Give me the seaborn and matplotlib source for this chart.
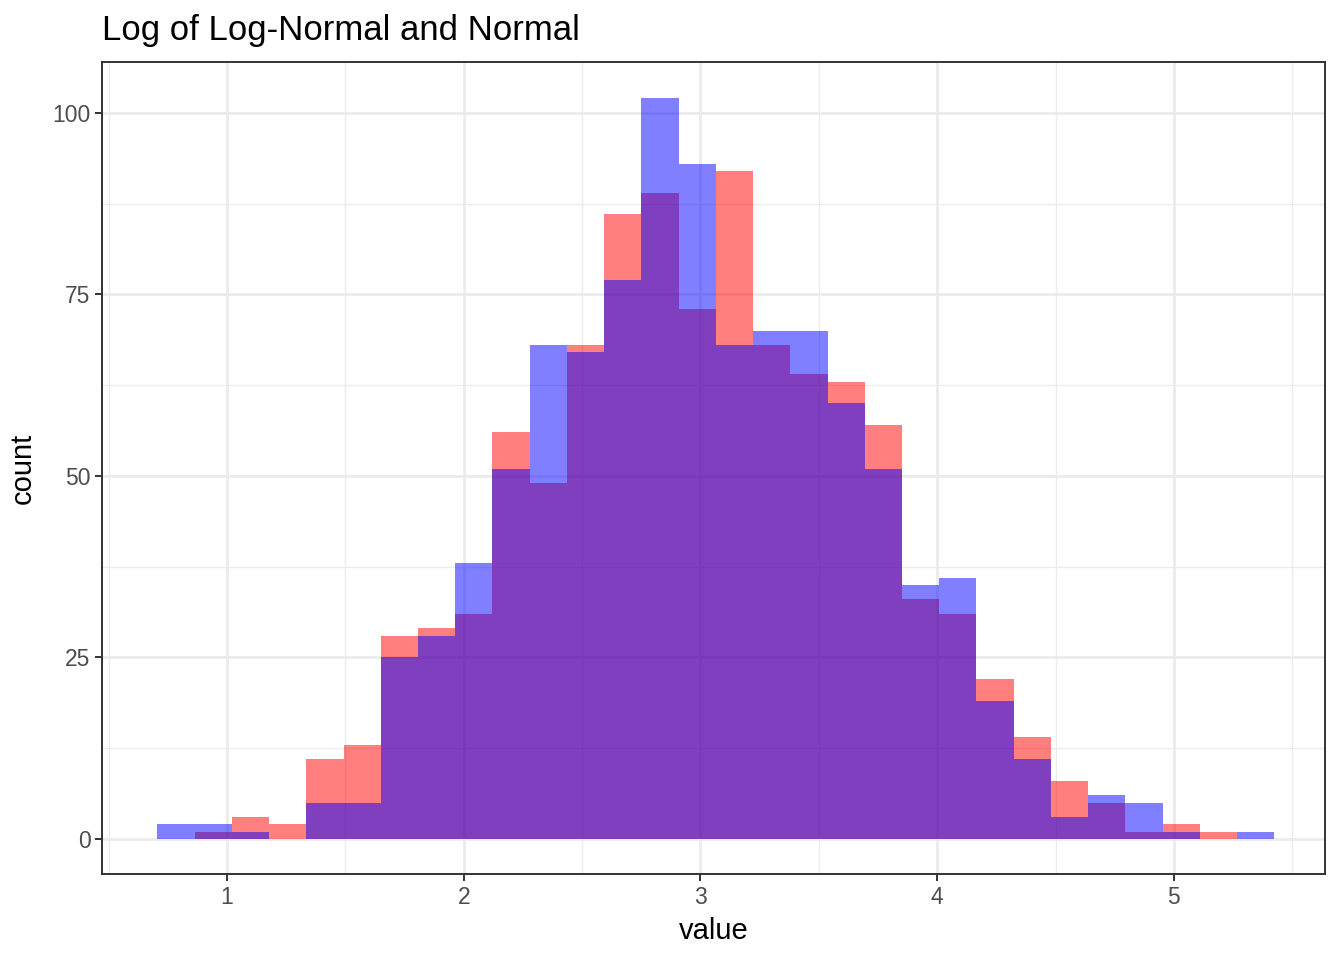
import numpy as np
import pandas as pd
import matplotlib
matplotlib.use("Agg")
import matplotlib.pyplot as plt
from matplotlib.ticker import MultipleLocator
import seaborn as sns

# shared bin range (30 bins)
bin_lo, bin_hi, n_bins = 0.706, 5.424, 30

# counts per bin, left to right
red_counts = [0, 1, 3, 2, 11, 13, 28, 29, 31, 56, 49, 68, 86, 89, 73,
              92, 68, 64, 63, 57, 33, 31, 22, 14, 8, 5, 1, 2, 1, 0]
blue_counts = [2, 2, 1, 0, 5, 5, 25, 28, 38, 51, 68, 67, 77, 102, 93,
               68, 70, 70, 60, 51, 35, 36, 19, 11, 3, 6, 5, 1, 0, 1]

x_ticks = [1, 2, 3, 4, 5]
y_ticks = [0, 25, 50, 75, 100]

edges = np.linspace(bin_lo, bin_hi, n_bins + 1)
centers = (edges[:-1] + edges[1:]) / 2
df = pd.DataFrame({"center": centers, "w_red": red_counts, "w_blue": blue_counts})

sns.set_theme(style="white")
plt.rcParams["font.family"] = ["Liberation Sans", "DejaVu Sans"]

fig = plt.figure(figsize=(13.44, 9.6), dpi=100)
ax = fig.add_axes([102 / 1344, 1 - 874 / 960, 1223 / 1344, 812 / 960])

sns.histplot(data=df, x="center", weights="w_red", bins=n_bins,
             binrange=(bin_lo, bin_hi), color="red",
             alpha=0.5, linewidth=0, edgecolor="none", ax=ax)
sns.histplot(data=df, x="center", weights="w_blue", bins=n_bins,
             binrange=(bin_lo, bin_hi), color="blue",
             alpha=0.5, linewidth=0, edgecolor="none", ax=ax)

ax.set_xlim(0.472, 5.638)
ax.set_ylim(-4.82, 107.0)
ax.set_xticks(x_ticks)
ax.set_yticks(y_ticks)
ax.xaxis.set_minor_locator(MultipleLocator(0.5))
ax.yaxis.set_minor_locator(MultipleLocator(12.5))
ax.set_axisbelow(True)
ax.grid(which="major", color="#EBEBEB", linewidth=2.0)
ax.grid(which="minor", color="#EBEBEB", linewidth=1.0)

for s in ax.spines.values():
    s.set_color("#333333")
    s.set_linewidth(1.4)

ax.tick_params(which="major", direction="out", length=5.3, width=1.4,
               color="#333333", labelcolor="#4D4D4D", labelsize=16.5, pad=3,
               bottom=True, left=True)
ax.tick_params(which="minor", length=0)

ax.set_xlabel("value", fontsize=21, color="black", labelpad=6)
ax.set_ylabel("count", fontsize=21, color="black", labelpad=11)
ax.set_title("Log of Log-Normal and Normal", loc="left", fontsize=25,
             color="black", pad=16)

fig.savefig("out.png", dpi=100)
